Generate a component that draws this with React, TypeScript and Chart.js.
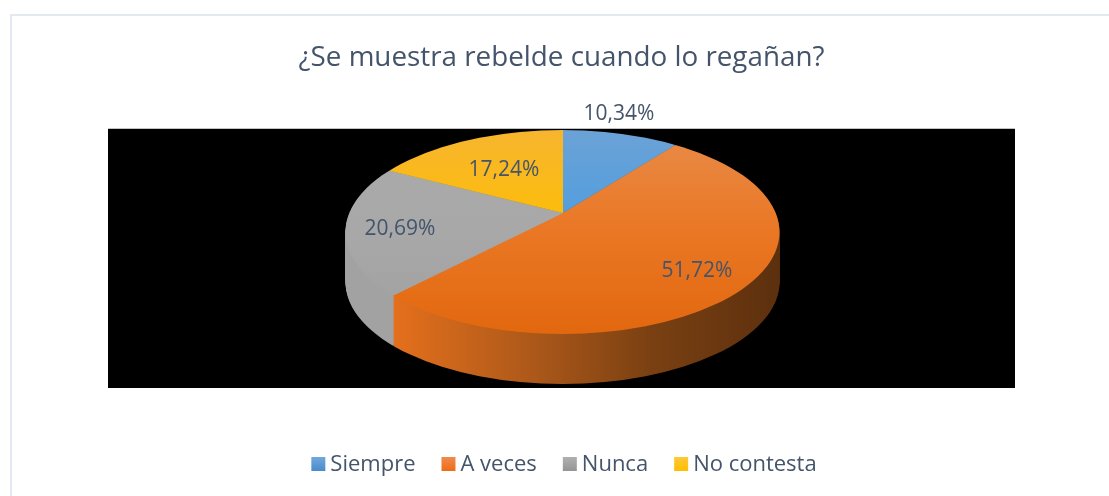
import React, { useEffect, useRef } from "react";
import { Chart, registerables } from "chart.js";

Chart.register(...registerables);

const categories = ["Siempre", "A veces", "Nunca", "No contesta"];
const shares = [10.34, 51.72, 20.69, 17.24];
const chartTitle = "¿Se muestra rebelde cuando lo regañan?";

const topStops = [
  ["#6BA2D6", "#4E9DE0", "#4A9BE2"],
  ["#E88B48", "#EA7724", "#E2680F"],
  ["#AAAAAA", "#A8A8A8", "#A0A0A0"],
  ["#F7B52E", "#FDBE05", "#FFC000"],
];
const sideStops = [
  ["#3E78AE", "#2E5C88"],
  ["#E36F1C", "#B05A1A", "#7A4012", "#5C300E"],
  ["#A2A2A2", "#8E8E8E"],
  ["#B58A00", "#8F6D00"],
];
const legendStops = [
  ["#72A7DC", "#4A8BCB"],
  ["#F08A50", "#EE6C14"],
  ["#B0B0B0", "#959595"],
  ["#FFC83A", "#FFBE00"],
];

const TEXT = "#44546A";
const FONT = "'Open Sans'";

// Scene geometry, relative to the canvas.
const APEX = { x: 563, y: 213 };
const RIM = { cx: 562.5, cy: 232, rx: 217, ry: 102 };
const TILT = 0.46;
const DEPTH = 50;
const labelShift = [
  [56, -99],
  [134, 58],
  [-163, 16],
  [-59, -43],
];

function grad(ctx: CanvasRenderingContext2D, x0: number, y0: number, x1: number, y1: number, stops: string[]) {
  const g = ctx.createLinearGradient(x0, y0, x1, y1);
  stops.forEach((c, i) => g.addColorStop(i / (stops.length - 1), c));
  return g;
}

const scene = {
  id: "scene",
  beforeDraw(chart: any) {
    const { ctx, chartArea: a, width, height } = chart;
    ctx.save();
    ctx.fillStyle = "#FFFFFF";
    ctx.fillRect(0, 0, width, height);
    ctx.strokeStyle = "#E3E8F1";
    ctx.lineWidth = 2;
    ctx.beginPath();
    ctx.moveTo(11, height);
    ctx.lineTo(11, 15);
    ctx.lineTo(width, 15);
    ctx.stroke();
    ctx.fillStyle = "#000000";
    ctx.fillRect(a.left, a.top, a.right - a.left, a.bottom - a.top);
    ctx.restore();
  },
  beforeDatasetDraw(chart: any) {
    const { ctx } = chart;
    const arcs = chart.getDatasetMeta(0).data;
    const ox = arcs[0].x;
    const oy = arcs[0].y;
    const paint = (d: number, fills: any[]) => {
      ctx.save();
      ctx.beginPath();
      ctx.ellipse(RIM.cx, RIM.cy + d, RIM.rx, RIM.ry, 0, 0, Math.PI * 2);
      ctx.clip();
      ctx.translate(APEX.x, APEX.y + d);
      ctx.scale(1, TILT);
      ctx.translate(-ox, -oy);
      arcs.forEach((el: any, i: number) => {
        const saved = el.options;
        el.options = { ...saved, backgroundColor: fills[i], borderWidth: 0 };
        el.draw(ctx);
        el.options = saved;
      });
      ctx.restore();
    };
    const sideFills = sideStops.map((s) =>
      grad(ctx, ox + 396 - APEX.x, 0, ox + RIM.cx + RIM.rx - APEX.x, 0, s)
    );
    for (let d = DEPTH; d >= 1; d--) paint(d, sideFills);
    const y0 = oy + (RIM.cy - RIM.ry - APEX.y) / TILT;
    const y1 = oy + (RIM.cy + RIM.ry - APEX.y) / TILT;
    paint(0, topStops.map((s) => grad(ctx, 0, y0, 0, y1, s)));
    return false;
  },
  afterDraw(chart: any) {
    const { ctx } = chart;
    ctx.save();
    ctx.fillStyle = TEXT;
    ctx.font = `21px ${FONT}`;
    ctx.textBaseline = "middle";
    ctx.textAlign = "center";
    shares.forEach((v, i) => {
      ctx.fillText(`${v.toFixed(2).replace(".", ",")}%`, APEX.x + labelShift[i][0], APEX.y + labelShift[i][1]);
    });
    // Legend: square swatch, tight text gap.
    const box = 14, gap = 5, between = 26, centre = 564, y = 465;
    ctx.font = `22px ${FONT}`;
    ctx.textAlign = "left";
    const widths = categories.map((c) => ctx.measureText(c).width);
    const total = widths.reduce((s, w) => s + w + box + gap, 0) + between * (categories.length - 1);
    let x = centre - total / 2;
    categories.forEach((c, i) => {
      ctx.fillStyle = grad(ctx, 0, y - 1 - box / 2, 0, y - 1 + box / 2, legendStops[i]);
      ctx.fillRect(x, y - 1 - box / 2, box, box);
      ctx.fillStyle = TEXT;
      ctx.fillText(c, x + box + gap, y);
      x += box + gap + widths[i] + between;
    });
    ctx.restore();
  },
};

export default function App() {
  const ref = useRef<HTMLCanvasElement>(null);
  useEffect(() => {
    document.body.style.margin = "0";
    const chart = new Chart(ref.current!, {
      type: "pie",
      data: {
        labels: categories,
        datasets: [
          {
            data: shares,
            backgroundColor: topStops.map((s) => s[1]),
            borderWidth: 0,
            radius: 1400,
          },
        ],
      },
      options: {
        responsive: false,
        animation: false,
        layout: { padding: { left: 108, right: 94, top: 20, bottom: 108 } },
        plugins: {
          legend: { display: false },
          tooltip: { enabled: false },
          title: {
            display: true,
            text: chartTitle,
            color: TEXT,
            font: { family: FONT, size: 27.8, weight: "normal", lineHeight: 1.2 },
            padding: { top: 21, bottom: 54.4 },
          },
        },
      },
      plugins: [scene],
    } as any);
    return () => chart.destroy();
  }, []);
  return <canvas ref={ref} width={1109} height={496} style={{ display: "block" }} />;
}
